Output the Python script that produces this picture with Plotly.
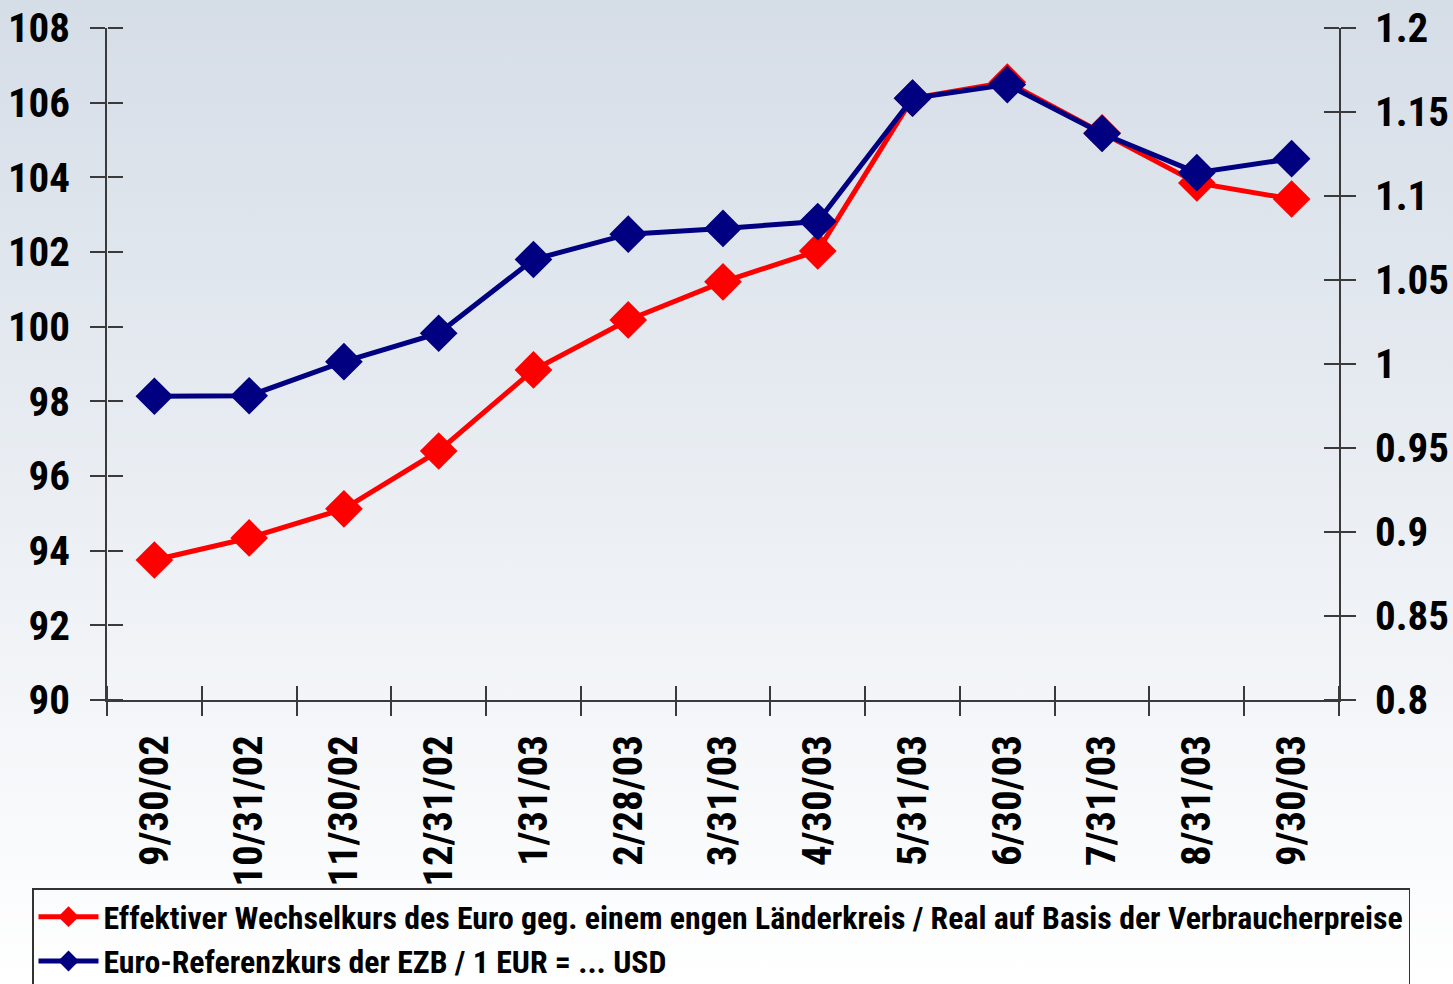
import base64
import plotly.graph_objects as go

dates = ["9/30/02", "10/31/02", "11/30/02", "12/31/02", "1/31/03", "2/28/03", "3/31/03",
         "4/30/03", "5/31/03", "6/30/03", "7/31/03", "8/31/03", "9/30/03"]
effektiv = [93.75, 94.34, 95.12, 96.67, 98.84, 100.18, 101.20, 102.03, 106.12, 106.55,
            105.19, 103.85, 103.42]
usd = [0.9808, 0.9811, 1.0014, 1.0183, 1.0622, 1.0773, 1.0807, 1.0848, 1.1582, 1.1663,
       1.1372, 1.1139, 1.1222]
name_eff = "Effektiver Wechselkurs des Euro geg. einem engen Länderkreis / Real auf Basis der Verbraucherpreise"
name_usd = "Euro-Referenzkurs der EZB / 1 EUR = ... USD"
left_ticks = [90, 92, 94, 96, 98, 100, 102, 104, 106, 108]
right_ticks = [0.8, 0.85, 0.9, 0.95, 1.0, 1.05, 1.1, 1.15, 1.2]
right_labels = ["0.8", "0.85", "0.9", "0.95", "1", "1.05", "1.1", "1.15", "1.2"]

W, H = 1453, 984
L, R, T, B = 107, 114, 28, 284
pw, ph = W - L - R, H - T - B

FONT = "Liberation Sans Narrow, Arial Narrow, Roboto Condensed, DejaVu Sans Condensed, sans-serif"
AX = "#3a3a3a"

fig = go.Figure()
fig.add_trace(go.Scatter(x=dates, y=effektiv, name=name_eff, mode="lines+markers",
                         line=dict(color="#ff0000", width=5),
                         marker=dict(symbol="diamond", size=29, color="#ff0000"),
                         xaxis="x", yaxis="y"))
fig.add_trace(go.Scatter(x=dates, y=usd, name=name_usd, mode="lines+markers",
                         line=dict(color="#000080", width=5),
                         marker=dict(symbol="diamond", size=29, color="#000080"),
                         xaxis="x", yaxis="y2"))
# invisible helpers so the inside-tick overlay axes get drawn
fig.add_trace(go.Scatter(x=[None], y=[None], xaxis="x2", yaxis="y3", showlegend=False,
                         hoverinfo="skip", mode="lines"))
fig.add_trace(go.Scatter(x=[None], y=[None], xaxis="x2", yaxis="y4", showlegend=False,
                         hoverinfo="skip", mode="lines"))

svg = ('<svg xmlns="http://www.w3.org/2000/svg" width="100" height="100" preserveAspectRatio="none">'
       '<defs><linearGradient id="g" x1="0" y1="0" x2="0" y2="1">'
       '<stop offset="0" stop-color="#d5dde7"/><stop offset="1" stop-color="#ffffff"/>'
       '</linearGradient></defs><rect width="100" height="100" fill="url(#g)"/></svg>')
uri = "data:image/svg+xml;base64," + base64.b64encode(svg.encode()).decode()

tickfont = dict(family=FONT, size=41, color="black", weight="bold")
n = len(dates)
bounds = [i - 0.5 for i in range(n + 1)]

fig.update_layout(
    width=W, height=H,
    margin=dict(l=L, r=R, t=T, b=B, pad=0, autoexpand=False),
    paper_bgcolor="white", plot_bgcolor="rgba(0,0,0,0)",
    images=[dict(source=uri, xref="paper", yref="paper",
                 x=-L / pw, y=(ph + T) / ph, sizex=W / pw, sizey=H / ph,
                 xanchor="left", yanchor="top", sizing="stretch", layer="below")],
    xaxis=dict(type="category", categoryorder="array", categoryarray=dates,
               range=[-0.5, n - 0.5], tickson="boundaries", ticks="outside", ticklen=14,
               tickcolor=AX, tickwidth=1.5, tickangle=-90, tickfont=tickfont,
               ticklabelstandoff=17, automargin=False,
               showline=True, linecolor=AX, linewidth=1.5, showgrid=False, zeroline=False),
    xaxis2=dict(overlaying="x", anchor="free", position=0, side="top", range=[-0.5, n - 0.5],
                tickvals=bounds, ticks="outside", ticklen=14, tickcolor=AX, tickwidth=1.5,
                showticklabels=False, showline=False, showgrid=False, zeroline=False,
                automargin=False),
    yaxis=dict(range=[90, 108], tickvals=left_ticks, ticks="outside", ticklen=15,
               tickcolor=AX, tickwidth=1.5, tickfont=tickfont, ticklabelstandoff=12,
               automargin=False,
               showline=True, linecolor=AX, linewidth=1.5, showgrid=False, zeroline=False),
    yaxis3=dict(overlaying="y", anchor="free", position=0, side="right", range=[90, 108],
                tickvals=left_ticks, ticks="outside", ticklen=15, tickcolor=AX, tickwidth=1.5,
                automargin=False,
                showticklabels=False, showline=False, showgrid=False, zeroline=False),
    yaxis2=dict(overlaying="y", anchor="x", side="right", range=[0.8, 1.2],
                tickvals=right_ticks, ticktext=right_labels, ticks="outside", ticklen=15,
                tickcolor=AX, tickwidth=1.5, tickfont=tickfont, ticklabelstandoff=11,
                automargin=False,
                showline=True, linecolor=AX, linewidth=1.5, showgrid=False, zeroline=False),
    yaxis4=dict(overlaying="y", anchor="free", position=1, side="left", range=[0.8, 1.2],
                tickvals=right_ticks, ticks="outside", ticklen=15, tickcolor=AX, tickwidth=1.5,
                automargin=False,
                showticklabels=False, showline=False, showgrid=False, zeroline=False),
    legend=dict(x=(32 - L) / pw, y=(ph + T - 888) / ph, xanchor="left", yanchor="top",
                orientation="v", bgcolor="rgba(255,255,255,0)", bordercolor="#333333",
                borderwidth=1.5, font=dict(family=FONT, size=31.8, color="black", weight="bold"),
                itemwidth=60, tracegroupgap=0),
    showlegend=True,
)

fig.write_html("out.html", config={"displayModeBar": False},
               post_script="document.body.style.margin='0';document.body.style.padding='0';"
                           "document.body.style.overflow='hidden';")
